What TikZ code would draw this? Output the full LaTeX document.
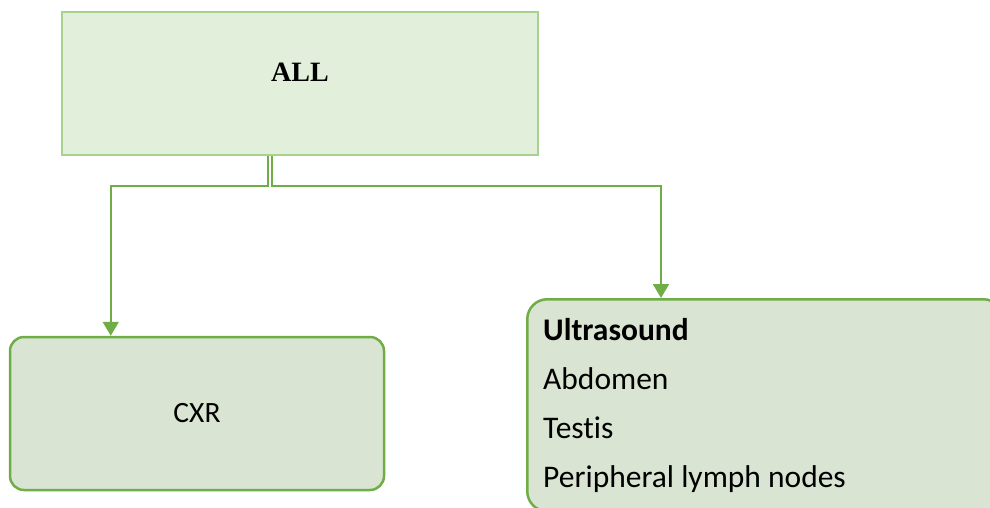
\documentclass[tikz,border=0pt]{standalone}
\usepackage{fontspec}
\setmainfont{Carlito}[Ligatures=NoCommon]
\newfontfamily\headfont{Liberation Serif}
\usepackage{xcolor}
\usetikzlibrary{arrows.meta}

\definecolor{leafgreen}{HTML}{70AD47}
\definecolor{palegreen}{HTML}{A9D18E}
\definecolor{topfill}{HTML}{E2EFDA}
\definecolor{boxfill}{HTML}{D9E4D2}

\begin{document}
\begin{tikzpicture}[x=1pt, y=-1pt,
  topbox/.style={draw=palegreen, fill=topfill, line width=2.5pt,
                 minimum width=476pt, minimum height=143pt, inner sep=0pt},
  box/.style={draw=leafgreen, fill=boxfill, line width=2.5pt,
              rounded corners=14pt, inner sep=0pt},
  arr/.style={-{Triangle[width=16pt,length=14pt]}, leafgreen, line width=2pt},
  lab/.style={font=\fontsize{31.5}{38}\selectfont, inner sep=0pt}]
\useasboundingbox (0,0) rectangle (990,507);
\clip (0,0) rectangle (990,507);
\node[topbox] (all) at (300,83.5) {};
\node[lab, font=\headfont\bfseries\fontsize{28}{34}\selectfont] (alltext)
  at (300,72.5) {ALL};
\node[box, minimum width=374pt, minimum height=153pt, lab,
      font=\fontsize{29.5}{36}\selectfont] (cxr)
  at (197,413.5) {CXR};
\node[box, rounded corners=20pt, minimum width=476pt, minimum height=212pt,
      anchor=north west] (us) at (526,298) {};
\node[lab, anchor=base west, font=\bfseries\fontsize{31.5}{38}\selectfont]
  (us1) at (543,340) {Ultrasound};
\node[lab, anchor=base west] (us2) at (543,389) {Abdomen};
\node[lab, anchor=base west] (us3) at (543,438) {Testis};
\node[lab, anchor=base west] (us4) at (543,487) {Peripheral lymph nodes};
\draw[arr] ([xshift=-32pt]all.south) -- ++(0,30) -| ([xshift=102pt]cxr.north west);
\draw[arr] ([xshift=-28.5pt]all.south) -- ++(0,30) -| ([xshift=135pt]us.north west);
\end{tikzpicture}
\end{document}
